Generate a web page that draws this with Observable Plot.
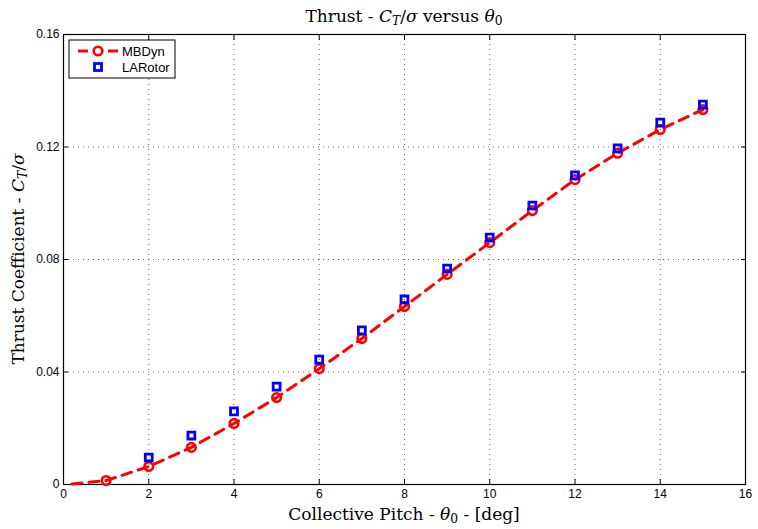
<!DOCTYPE html>
<html>
<head>
<meta charset="utf-8">
<script src="https://cdn.jsdelivr.net/npm/d3@7"></script>
<script src="https://cdn.jsdelivr.net/npm/@observablehq/plot@0.6"></script>
<style>
body { margin: 0; background: #fff; }
#chart svg { display: block; }
</style>
</head>
<body>
<div id="chart"></div>
<script>
// MBDyn (circles + dashed line)
const mbPitch = [1, 2, 3, 4, 5, 6, 7, 8, 9, 10, 11, 12, 13, 14, 15];
const mbCT = [0.0014, 0.0064, 0.0132, 0.0217, 0.0309, 0.0412, 0.0519, 0.0633, 0.0747, 0.0860, 0.0974, 0.1084, 0.1178, 0.1262, 0.1333];
// start of the MBDyn dashed curve
const lineStartPitch = 0.2;
const lineStartCT = 0.0002;
// LARotor (squares)
const laPitch = [2, 3, 4, 5, 6, 7, 8, 9, 10, 11, 12, 13, 14, 15];
const laCT = [0.0096, 0.0174, 0.0260, 0.0348, 0.0444, 0.0548, 0.0658, 0.0768, 0.0878, 0.0992, 0.1099, 0.1195, 0.1287, 0.1351];
const xTicks = [0, 2, 4, 6, 8, 10, 12, 14, 16];
const yTicks = [0, 0.04, 0.08, 0.12, 0.16];
const yTickLabels = ["0", "0.04", "0.08", "0.12", "0.16"];

const mb = mbPitch.map((p, i) => ({p, v: mbCT[i]}));
const mbLine = [{p: lineStartPitch, v: lineStartCT}, ...mb];
const la = laPitch.map((p, i) => ({p, v: laCT[i]}));

const W = 758, H = 529;
const mL = 63, mR = 13, mT = 34, mB = 45;

const chart = Plot.plot({
  width: W, height: H,
  marginLeft: mL, marginRight: mR, marginTop: mT, marginBottom: mB,
  style: {fontFamily: "'Liberation Sans', Arial, sans-serif", fontSize: "12px", color: "#000", background: "#fff", overflow: "visible"},
  x: {domain: [0, 16], ticks: xTicks, tickFormat: d => String(d), label: null},
  y: {domain: [0, 0.16], ticks: yTicks, tickFormat: (d, i) => yTickLabels[i], label: null},
  marks: [
    Plot.gridX(xTicks.slice(1, -1), {stroke: "#444", strokeOpacity: 0.8, strokeDasharray: "1,4", strokeWidth: 1}),
    Plot.gridY(yTicks.slice(1, -1), {stroke: "#444", strokeOpacity: 0.8, strokeDasharray: "1,4", strokeWidth: 1}),
    Plot.axisX(xTicks, {tickSize: -5, tickPadding: 10, fontSize: 12, anchor: "bottom"}),
    Plot.axisX(xTicks, {tickSize: -5, tickFormat: null, anchor: "top", text: null}),
    Plot.axisY(yTicks, {tickSize: -5, tickPadding: 9, fontSize: 12, anchor: "left", tickFormat: (d, i) => yTickLabels[i]}),
    Plot.axisY(yTicks, {tickSize: -5, anchor: "right", text: null}),
    Plot.frame({stroke: "#000", strokeWidth: 1.2}),
    Plot.line(mbLine, {x: "p", y: "v", stroke: "#ff0000", strokeWidth: 3, strokeDasharray: "10,7"}),
    Plot.dot(mb, {x: "p", y: "v", r: 4.3, stroke: "#ff0000", strokeWidth: 2.6, fill: "none"}),
    Plot.dot(la, {x: "p", y: "v", symbol: "square", r: 3.9, stroke: "#0000ff", strokeWidth: 2.8, fill: "none"})
  ]
});

document.getElementById("chart").appendChild(chart);

// Title, axis labels and legend (LaTeX-like serif text with math)
const svg = d3.select(chart);
const serif = "'DejaVu Serif', 'Liberation Serif', serif";

function mathText(g, parts) {
  parts.forEach(pt => {
    const ts = g.append("tspan").text(pt.t);
    if (pt.i) ts.attr("font-style", "italic");
    if (pt.sub) ts.attr("baseline-shift", "-25%").attr("font-size", "0.72em");
  });
}

const title = svg.append("text")
  .attr("x", mL + (W - mL - mR) / 2).attr("y", 22)
  .attr("text-anchor", "middle").attr("font-family", serif).attr("font-size", 17).attr("fill", "#000");
mathText(title, [{t: "Thrust - "}, {t: "C", i: true}, {t: "T", i: true, sub: true}, {t: "/"}, {t: "σ", i: true}, {t: " versus "}, {t: "θ", i: true}, {t: "0", sub: true}]);

const xl = svg.append("text")
  .attr("x", mL + (W - mL - mR) / 2).attr("y", H - 9)
  .attr("text-anchor", "middle").attr("font-family", serif).attr("font-size", 17).attr("fill", "#000");
mathText(xl, [{t: "Collective Pitch - "}, {t: "θ", i: true}, {t: "0", sub: true}, {t: " - [deg]"}]);

const yl = svg.append("text")
  .attr("transform", `translate(24, ${mT + (H - mT - mB) / 2}) rotate(-90)`)
  .attr("text-anchor", "middle").attr("font-family", serif).attr("font-size", 17).attr("fill", "#000");
mathText(yl, [{t: "Thrust Coefficient - "}, {t: "C", i: true}, {t: "T", i: true, sub: true}, {t: "/"}, {t: "σ", i: true}]);

// Legend box
const lg = svg.append("g").attr("transform", `translate(${mL + 6}, ${mT + 6})`);
lg.append("rect").attr("width", 106).attr("height", 38).attr("fill", "#fff").attr("stroke", "#000").attr("stroke-width", 1);
lg.append("line").attr("x1", 9).attr("x2", 49).attr("y1", 11).attr("y2", 11)
  .attr("stroke", "#ff0000").attr("stroke-width", 3).attr("stroke-dasharray", "10,20");
lg.append("circle").attr("cx", 29).attr("cy", 11).attr("r", 4.3).attr("fill", "none").attr("stroke", "#ff0000").attr("stroke-width", 2.6);
lg.append("rect").attr("x", 29 - 3.5).attr("y", 27 - 3.5).attr("width", 7).attr("height", 7)
  .attr("fill", "none").attr("stroke", "#0000ff").attr("stroke-width", 2.8);
lg.append("text").attr("x", 53).attr("y", 15.5).attr("text-anchor", "start").attr("font-size", 13).attr("font-family", "'Liberation Sans', Arial, sans-serif").text("MBDyn");
lg.append("text").attr("x", 53).attr("y", 31.5).attr("text-anchor", "start").attr("font-size", 13).attr("font-family", "'Liberation Sans', Arial, sans-serif").text("LARotor");
</script>
</body>
</html>
